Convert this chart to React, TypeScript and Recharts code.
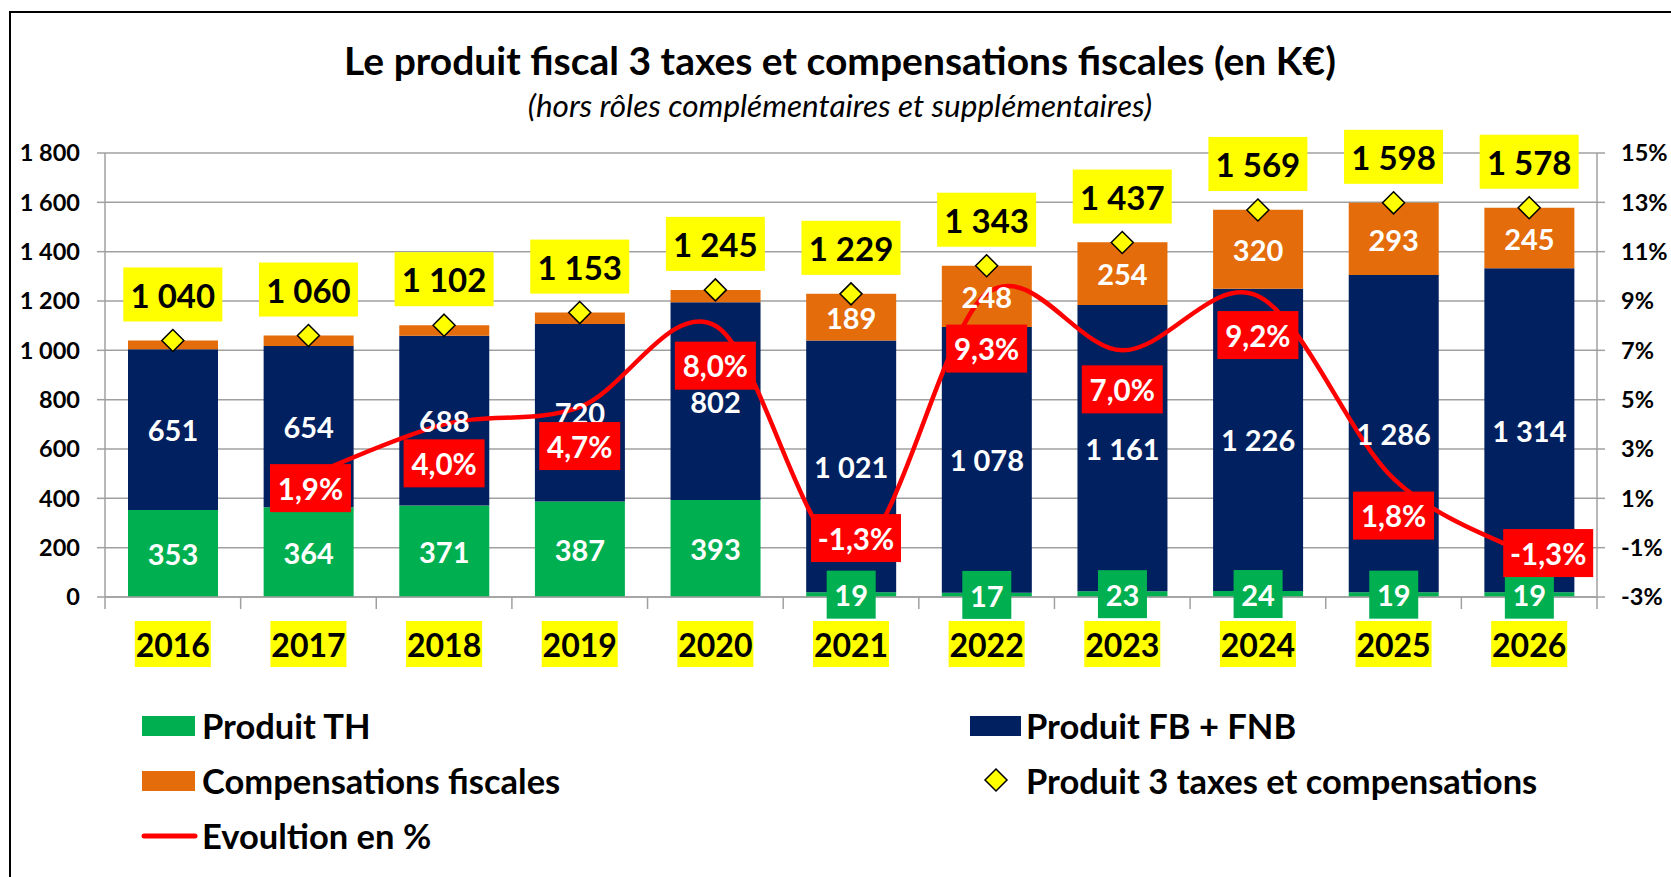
import {
  ComposedChart,
  Bar,
  Line,
  XAxis,
  YAxis,
  CartesianGrid,
  LabelList,
  Legend,
} from "recharts";

const years = ["2016", "2017", "2018", "2019", "2020", "2021", "2022", "2023", "2024", "2025", "2026"];
const produitTH = [353, 364, 371, 387, 393, 19, 17, 23, 24, 19, 19];
const produitFB = [651, 654, 688, 720, 802, 1021, 1078, 1161, 1226, 1286, 1314];
const compensations = [36, 42, 43, 46, 50, 189, 248, 254, 320, 293, 245];
const totals = [1040, 1060, 1102, 1153, 1245, 1229, 1343, 1437, 1569, 1598, 1578];
const evolution: (number | null)[] = [null, 1.9, 4.0, 4.7, 8.0, -1.3, 9.3, 7.0, 9.2, 1.8, -1.3];
const leftTicks = [0, 200, 400, 600, 800, 1000, 1200, 1400, 1600, 1800];
const rightTicks = [-3, -1, 1, 3, 5, 7, 9, 11, 13, 15];

const data = years.map((year, i) => ({
  year,
  th: produitTH[i],
  fb: produitFB[i],
  comp: compensations[i],
  total: totals[i],
  evo: evolution[i],
}));

const FONT = "Lato, 'Liberation Sans', sans-serif";
const GREEN = "#00B050";
const NAVY = "#002060";
const ORANGE = "#E46C0A";
const RED = "#FF0000";
const YELLOW = "#FFFF00";
const GRID = "#a0a0a0";

const W = 1671;
const H = 877;
const PLOT_LEFT = 105;
const PLOT_RIGHT = 1597;
const BAND = (PLOT_RIGHT - PLOT_LEFT) / years.length;

// where the % boxes sit relative to their point (moved by hand in the original)
const evoLabelShift = [
  [0, 0], [2, 12], [0, 39], [0, 39], [0, 40], [5, -17],
  [0, 55], [0, 39], [0, 39], [0, 37], [19, -2],
];

const fmtK = (v: number) => String(v).replace(/\B(?=(\d{3})+(?!\d))/g, " ");
const fmtPct = (v: number) => v.toFixed(1).replace(".", ",") + "%";

// Excel style smoothed line (bezier, catmull-rom tangents)
const excelCurve = (context: any) => {
  let pts: number[][] = [];
  return {
    areaStart() {},
    areaEnd() {},
    lineStart() {
      pts = [];
    },
    lineEnd() {
      if (!pts.length) return;
      context.moveTo(pts[0][0], pts[0][1]);
      for (let i = 0; i < pts.length - 1; i++) {
        const p0 = pts[Math.max(i - 1, 0)];
        const p1 = pts[i];
        const p2 = pts[i + 1];
        const p3 = pts[Math.min(i + 2, pts.length - 1)];
        context.bezierCurveTo(
          p1[0] + (p2[0] - p0[0]) / 6,
          p1[1] + (p2[1] - p0[1]) / 6,
          p2[0] - (p3[0] - p1[0]) / 6,
          p2[1] - (p3[1] - p1[1]) / 6,
          p2[0],
          p2[1]
        );
      }
    },
    point(x: number, y: number) {
      pts.push([+x, +y]);
    },
  };
};

const geom = (props: any) => {
  const vb = props.viewBox ?? {};
  return {
    x: vb.x ?? props.x ?? 0,
    y: vb.y ?? props.y ?? 0,
    w: vb.width ?? props.width ?? 0,
    h: vb.height ?? props.height ?? 0,
  };
};

const whiteText = (x: number, y: number, s: string, size = 29, fill = "#fff") => (
  <text
    x={x}
    y={y}
    dy="0.4em"
    textAnchor="middle"
    fill={fill}
    fontSize={size}
    fontWeight={700}
    fontFamily={FONT}
  >
    {s}
  </text>
);

const ThLabel = (props: any) => {
  const { x, y, w, h } = geom(props);
  const v = Number(props.value);
  const cx = x + w / 2;
  const cy = y + h / 2;
  if (v >= 100) return whiteText(cx, cy, fmtK(v));
  return (
    <g>
      <rect x={cx - 24.5} y={cy - 24} width={49} height={48} fill={GREEN} />
      {whiteText(cx, cy, fmtK(v))}
    </g>
  );
};

const MidLabel = (props: any) => {
  const { x, y, w, h } = geom(props);
  const v = Number(props.value);
  if (v < 100) return null;
  return whiteText(x + w / 2, y + h / 2, fmtK(v));
};

const TotalLabel = (props: any) => {
  const { x, y, w } = geom(props);
  const cx = x + w / 2;
  const cy = y - 46;
  return (
    <g>
      <rect x={cx - 49.5} y={cy - 27} width={99} height={54} fill={YELLOW} />
      {whiteText(cx, cy, fmtK(Number(props.value)), 33, "#000")}
    </g>
  );
};

const EvoLabel = (props: any) => {
  if (props.value == null) return null;
  const { x, y, w } = geom(props);
  const v = Number(props.value);
  const [dx, dy] = evoLabelShift[props.index] ?? [0, 0];
  const cx = x + w / 2 + dx;
  const cy = y + dy;
  const bw = v < 0 ? 90 : 81;
  return (
    <g>
      <rect x={cx - bw / 2} y={cy - 24} width={bw} height={48} fill={RED} />
      {whiteText(cx, cy, fmtPct(v), 29.5)}
    </g>
  );
};

const Diamond = (p: any) => {
  if (p.cx == null || p.cy == null) return <g key={p.key} />;
  const { cx, cy } = p;
  return (
    <path
      key={p.key}
      d={`M${cx},${cy - 11}L${cx + 11},${cy}L${cx},${cy + 11}L${cx - 11},${cy}Z`}
      fill={YELLOW}
      stroke="#000"
      strokeWidth={1.5}
    />
  );
};

const XTick = (props: any) => {
  const { x, y, payload } = props;
  const last = payload.value === years[years.length - 1];
  return (
    <g>
      <line x1={x - BAND / 2} x2={x - BAND / 2} y1={y} y2={y + 12} stroke={GRID} strokeWidth={1.5} />
      {last && (
        <line x1={x + BAND / 2} x2={x + BAND / 2} y1={y} y2={y + 12} stroke={GRID} strokeWidth={1.5} />
      )}
      <rect x={x - 38} y={y + 24} width={76} height={46} fill={YELLOW} />
      {whiteText(x, y + 47, payload.value, 32, "#000")}
    </g>
  );
};

const legendText = (x: number, y: number, s: string) => (
  <text x={x} y={y} dy="0.37em" fontSize={34.5} fontWeight={700} fontFamily={FONT} fill="#000">
    {s}
  </text>
);

const LegendBox = () => (
  <svg width={W} height={210} style={{ display: "block" }}>
    <rect x={142} y={49} width={53} height={20} fill={GREEN} />
    {legendText(202, 59, "Produit TH")}
    <rect x={142} y={104} width={53} height={20} fill={ORANGE} />
    {legendText(202, 114, "Compensations fiscales")}
    <line x1={144} x2={195} y1={169} y2={169} stroke={RED} strokeWidth={5} strokeLinecap="round" />
    {legendText(202, 169, "Evoultion en %")}
    <rect x={970} y={49} width={51} height={20} fill={NAVY} />
    {legendText(1026, 59, "Produit FB + FNB")}
    <path d="M996,102L1007,113L996,124L985,113Z" fill={YELLOW} stroke="#000" strokeWidth={1.5} />
    {legendText(1026, 114, "Produit 3 taxes et compensations")}
  </svg>
);

const tickStyle = { fill: "#000", fontSize: 23.5, fontWeight: 700, fontFamily: FONT };

export default function App() {
  return (
    <div style={{ position: "absolute", left: 0, top: 0, width: W, height: H, background: "#fff" }}>
      <svg width={W} height={H} style={{ position: "absolute", left: 0, top: 0 }}>
        <line x1={10} x2={10} y1={11} y2={H} stroke="#000" strokeWidth={2} />
        <line x1={9} x2={W} y1={12} y2={12} stroke="#000" strokeWidth={2} />
        <text x={840} y={75} textAnchor="middle" fontSize={39} fontWeight={700} fontFamily={FONT} fill="#000">
          Le produit fiscal 3 taxes et compensations fiscales (en K€)
        </text>
        <text x={840} y={117} textAnchor="middle" fontSize={31.5} fontStyle="italic" fontFamily={FONT} fill="#000">
          (hors rôles complémentaires et supplémentaires)
        </text>
      </svg>
      <div style={{ position: "absolute", left: 0, top: 0 }}>
        <ComposedChart
          width={W}
          height={H}
          data={data}
          margin={{ top: 153, right: 10, bottom: 0, left: 10 }}
          barSize={90}
        >
          <CartesianGrid yAxisId="left" vertical={false} stroke={GRID} strokeWidth={1.5} />
          <XAxis
            dataKey="year"
            height={70}
            interval={0}
            axisLine={{ stroke: GRID, strokeWidth: 1.5 }}
            tickLine={false}
            tickSize={0}
            tickMargin={0}
            tick={<XTick />}
          />
          <YAxis
            yAxisId="left"
            width={95}
            domain={[0, 1800]}
            ticks={leftTicks}
            interval={0}
            axisLine={{ stroke: GRID, strokeWidth: 1.5 }}
            tickLine={{ stroke: GRID, strokeWidth: 1.5 }}
            tickSize={8}
            tickMargin={17}
            tick={tickStyle}
            tickFormatter={(v: number) => fmtK(v)}
          />
          <YAxis
            yAxisId="right"
            orientation="right"
            width={64}
            domain={[-3, 15]}
            ticks={rightTicks}
            interval={0}
            axisLine={{ stroke: GRID, strokeWidth: 1.5 }}
            tickLine={{ stroke: GRID, strokeWidth: 1.5 }}
            tickSize={8}
            tickMargin={16}
            tick={tickStyle}
            tickFormatter={(v: number) => `${v}%`}
          />
          <Bar yAxisId="left" dataKey="th" stackId="a" fill={GREEN} isAnimationActive={false}>
            <LabelList dataKey="th" content={ThLabel} />
          </Bar>
          <Bar yAxisId="left" dataKey="fb" stackId="a" fill={NAVY} isAnimationActive={false}>
            <LabelList dataKey="fb" content={MidLabel} />
          </Bar>
          <Bar yAxisId="left" dataKey="comp" stackId="a" fill={ORANGE} isAnimationActive={false}>
            <LabelList dataKey="comp" content={MidLabel} />
          </Bar>
          <Line
            yAxisId="right"
            dataKey="evo"
            type={excelCurve as any}
            stroke={RED}
            strokeWidth={4.5}
            dot={false}
            activeDot={false}
            isAnimationActive={false}
          >
            <LabelList dataKey="evo" content={EvoLabel} />
          </Line>
          <Line
            yAxisId="left"
            dataKey="total"
            stroke="none"
            dot={Diamond}
            activeDot={false}
            isAnimationActive={false}
          >
            <LabelList dataKey="total" content={TotalLabel} />
          </Line>
          <Legend
            verticalAlign="bottom"
            content={LegendBox}
            wrapperStyle={{ left: 0, top: 667, width: W, height: 210 }}
          />
        </ComposedChart>
      </div>
    </div>
  );
}
